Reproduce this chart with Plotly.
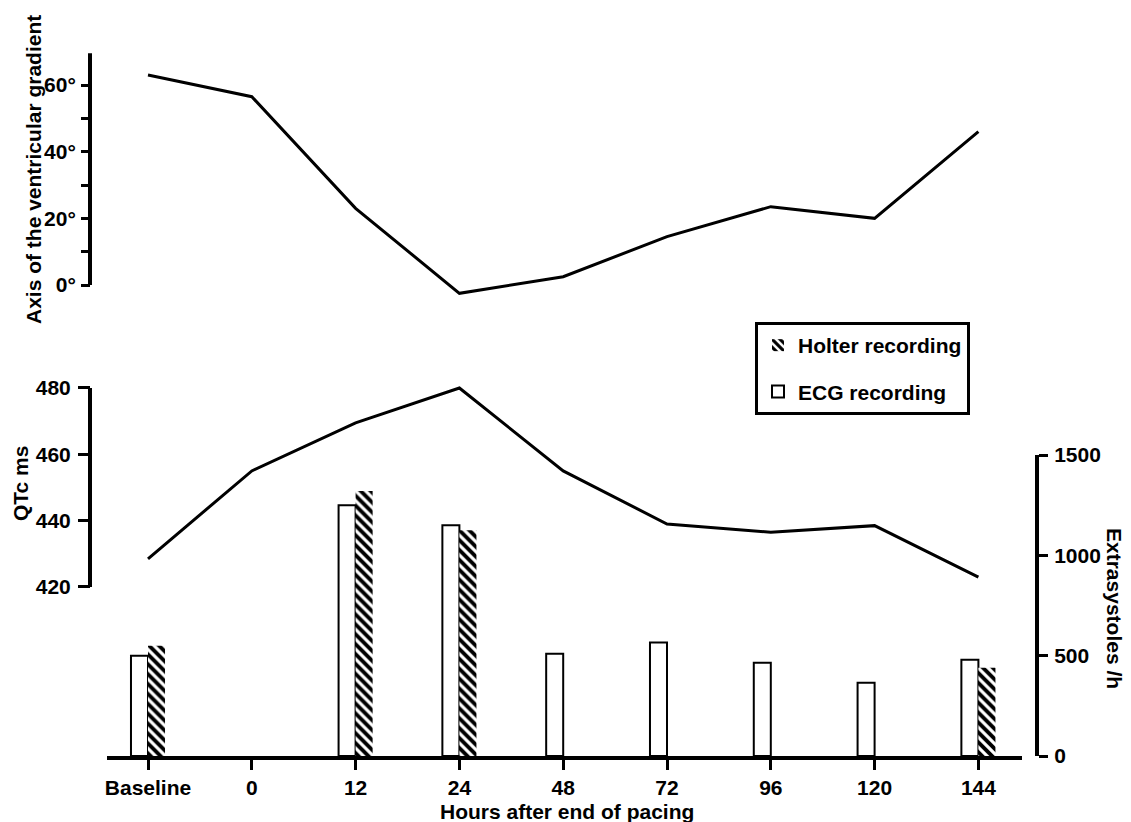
import plotly.graph_objects as go

# ---------------- data ----------------
categories = ["Baseline", "0", "12", "24", "48", "72", "96", "120", "144"]
gradient_axis_deg = [63, 56.5, 23, -2.5, 2.5, 14.5, 23.5, 20, 46]
qtc_ms = [428.5, 455, 469.5, 480, 455, 439, 436.5, 438.5, 423]
ecg_extrasystoles = [500, None, 1250, 1150, 510, 565, 465, 365, 480]
holter_extrasystoles = [550, None, 1320, 1125, None, None, None, None, 440]

gradient_ticks = [0, 10, 20, 30, 40, 50, 60]
gradient_ticktext = ["0°", "", "20°", "", "40°", "", "60°"]
qtc_ticks = [420, 440, 460, 480]
extra_ticks = [0, 500, 1000, 1500]

# ---------------- layout geometry (reference pixels) ----------------
OFF = 8                                      # page body margin in the browser
W, H = 1131 - OFF, 822 - OFF
PL, PR, PT, PB = 90, 1037, 51, 756          # plot area (left/right spines, top, x-axis)
XL, XR = 107, 1022                          # x-axis line extent
PW, PH = PR - PL, PB - PT


def px_x(p):
    return (p - PL) / PW


def px_y(p):
    return (PB - p) / PH


FONT = "Liberation Sans, Arial, sans-serif"
FS = 21

# top panel: 0 deg at y=285, 60 deg at y=85
deg_px = (285 - 85) / 60.0
g_min, g_max = -4, (285 - PT) / deg_px
g_dom = [px_y(285 + 4 * deg_px), 1.0]

# QTc: 420 at y=587, 480 at y=388
ms_px = (587 - 388) / 60.0
q_min, q_max = 418, 482
q_dom = [px_y(587 + 2 * ms_px), px_y(388 - 2 * ms_px)]

# extrasystoles: 0 at PB, 1500 at y=455
e_dom = [0, px_y(455)]

fig = go.Figure()

fig.add_trace(go.Bar(
    x=categories, y=ecg_extrasystoles, name="ECG recording", yaxis="y2",
    marker=dict(color="white", line=dict(color="black", width=2)),
    legendrank=2, legendgroup="e"))
fig.add_trace(go.Bar(
    x=categories, y=holter_extrasystoles, name="Holter recording", yaxis="y2",
    marker=dict(color="white", line=dict(color="black", width=0),
                pattern=dict(shape="\\", fgcolor="black", bgcolor="white",
                             fgopacity=1, fillmode="replace",
                             size=7, solidity=0.55)),
    legendrank=1, legendgroup="h"))
fig.add_trace(go.Scatter(
    x=categories, y=qtc_ms, yaxis="y", mode="lines",
    line=dict(color="black", width=3), showlegend=False))
fig.add_trace(go.Scatter(
    x=categories, y=gradient_axis_deg, yaxis="y3", mode="lines",
    line=dict(color="black", width=3), showlegend=False))

tickfont = dict(family=FONT, size=FS, color="black", weight="bold")

fig.update_layout(
    template="none",
    width=W, height=H,
    margin=dict(l=PL - OFF, r=1131 - PR, t=PT - OFF, b=822 - PB, pad=0,
                autoexpand=False),
    paper_bgcolor="white", plot_bgcolor="rgba(0,0,0,0)",
    font=dict(family=FONT, size=FS, color="black", weight="bold"),
    barmode="group", bargap=0.672, bargroupgap=0,
    showlegend=True,
    legend=dict(x=px_x(755), y=px_y(322), xanchor="left", yanchor="top",
                bordercolor="black", borderwidth=3, bgcolor="white",
                font=dict(family=FONT, size=FS, color="black", weight="bold"),
                tracegroupgap=16, itemsizing="constant"),
    xaxis=dict(type="category", domain=[px_x(XL), px_x(XR)],
               range=[-0.395, 8.42], anchor="y2", automargin=False,
               showline=True, linecolor="black", linewidth=4,
               ticks="outside", ticklen=10, tickwidth=3, tickcolor="black",
               showgrid=False, zeroline=False, tickfont=tickfont,
               ticklabelstandoff=0),
    yaxis=dict(domain=q_dom, range=[q_min, q_max], anchor="free", position=0,
               automargin=False,
               showline=False, tickvals=qtc_ticks, ticks="outside",
               ticklen=12, tickwidth=3, tickcolor="black",
               showgrid=False, zeroline=False, tickfont=tickfont,
               ticklabelstandoff=3),
    yaxis2=dict(domain=e_dom, range=[0, 1500], anchor="free", position=1,
                automargin=False,
                side="right", showline=True, linecolor="black", linewidth=4,
                tickvals=extra_ticks, ticks="outside", ticklen=9, tickwidth=3,
                tickcolor="black", showgrid=False, zeroline=False,
                tickfont=tickfont, ticklabelstandoff=2),
    yaxis3=dict(domain=g_dom, range=[g_min, g_max], anchor="free", position=0,
                automargin=False,
                showline=False, tickvals=gradient_ticks,
                ticktext=gradient_ticktext, ticks="outside", ticklen=9,
                tickwidth=3, tickcolor="black", showgrid=False,
                zeroline=False, tickfont=tickfont, ticklabelstandoff=1),
)

# axis spines that stop at the end of their scales
fig.add_shape(type="line", xref="paper", yref="y3", x0=0, x1=0, y0=0, y1=69.5,
              line=dict(color="black", width=4))
fig.add_shape(type="line", xref="paper", yref="y", x0=0, x1=0, y0=420, y1=480,
              line=dict(color="black", width=4))

ann_font = dict(family=FONT, size=FS, color="black", weight="bold")
common = dict(xref="paper", yref="paper", showarrow=False, font=ann_font,
              xanchor="center", yanchor="middle")
fig.add_annotation(text="Axis of the ventricular gradient", x=px_x(33),
                   y=px_y(170), textangle=-90, **common)
fig.add_annotation(text="QTc ms", x=px_x(20), y=px_y(484), textangle=-90,
                   **common)
fig.add_annotation(text="Extrasystoles /h", x=px_x(1115), y=px_y(608),
                   textangle=90, **common)
fig.add_annotation(text="Hours after end of pacing", x=px_x(567),
                   y=px_y(811), **common)

fig.write_html("out.html")
